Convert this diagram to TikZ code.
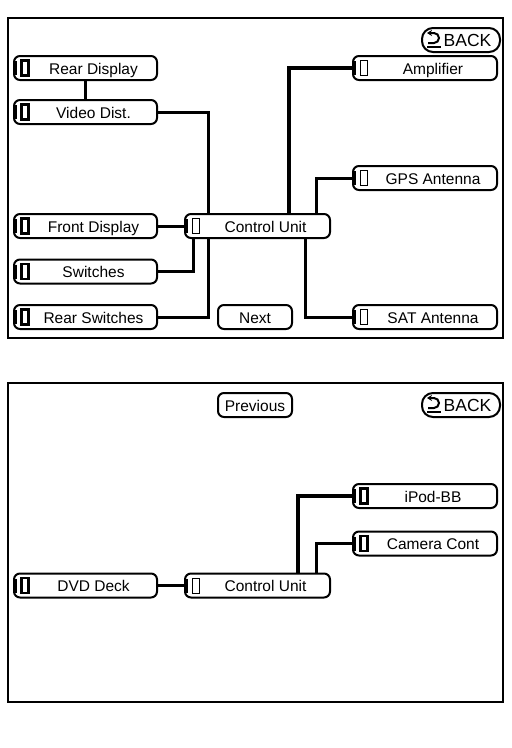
\documentclass[tikz,border=0pt]{standalone}
\usepackage{fontspec}
\setmainfont{Liberation Sans}
\usetikzlibrary{arrows.meta}

\begin{document}
\begin{tikzpicture}[x=1pt,y=-1pt,
		every node/.style={font=\fontsize{15.5}{18}\selectfont,text height=12pt,text depth=0pt},
		unit/.style={draw,line width=2pt,rounded corners=6pt,minimum width=143pt,
			minimum height=24pt,inner sep=0pt,execute at begin node={\hspace*{16pt}},
			path picture={
				\draw[sharp corners,line width=1.4pt] ([xshift=2pt,yshift=-5pt]path picture bounding box.north west)
				-- ([xshift=2pt,yshift=5pt]path picture bounding box.south west);
				\draw[sharp corners,line width=#1] ([xshift=7.5pt,yshift=-4.5pt]path picture bounding box.north west)
				rectangle ++(7pt,-15pt);}},
		unit/.default=0.9pt,
		button/.style={draw,line width=2pt,rounded corners=6pt,minimum width=74pt,
			minimum height=24pt,inner sep=0pt},
		backbtn/.style={button,rounded corners=11pt,minimum width=78pt,
			font=\fontsize{17.5}{20}\selectfont,text height=13pt,
			execute at begin node={\hspace*{13pt}}},
		wire/.style={line width=3pt},
		frame/.style={line width=2.6pt}]
		\useasboundingbox (0,0) rectangle (512,748);

		% first page
		\draw[frame] (8,18) rectangle (503,338);
		\node[backbtn] (back) at (461,40) {BACK};
		\node[unit=2.2pt] (reardisp) at (85.5,68) {Rear Display};
		\node[unit=2.2pt] (videodist) at (85.5,112) {Video Dist.};
		\node[unit=2.2pt] (frontdisp) at (85.5,226) {Front Display};
		\node[unit=2.2pt] (switches) at (85.5,271.5) {Switches};
		\node[unit=2.2pt] (rearsw) at (85.5,317) {Rear Switches};
		\node[unit,minimum width=145pt] (cu) at (257.5,226) {Control Unit};
		\node[button] (next) at (255,317) {Next};
		\node[unit,minimum width=144pt] (amp) at (425,68) {Amplifier};
		\node[unit,minimum width=144pt] (gps) at (425,178) {GPS Antenna};
		\node[unit,minimum width=144pt] (sat) at (425,317) {SAT Antenna};

		\draw[wire] (reardisp) -- (videodist);
		\draw[wire] (videodist.east) -| ([xshift=24pt]cu.north west);
		\draw[wire] (frontdisp) -- (cu);
		\draw[wire] (switches.east) -| ([xshift=9pt]cu.south west);
		\draw[wire] (rearsw.east) -| ([xshift=24pt]cu.south west);
		\draw[wire,line width=3.6pt] (amp.west) -| ([xshift=105pt]cu.north west);
		\draw[wire] (gps.west) -| ([xshift=132pt]cu.north west);
		\draw[wire] ([xshift=121pt]cu.south west) |- (sat.west);

		% second page
		\draw[frame] (8,383) rectangle (503,702);
		\node[button,minimum width=74pt] (prev) at (255,405) {Previous};
		\node[backbtn] (back2) at (461,405) {BACK};
		\node[unit=2.2pt,minimum width=144pt] (ipod) at (425,496) {iPod-BB};
		\node[unit=2.2pt,minimum width=144pt] (camera) at (425,543.5) {Camera Cont};
		\node[unit=2.2pt] (dvd) at (85.5,585.5) {DVD Deck};
		\node[unit,minimum width=145pt] (cutwo) at (257.5,585.5) {Control Unit};

		\draw[wire,line width=3.6pt] (dvd) -- (cutwo);
		\draw[wire,line width=3.6pt] (ipod.west) -| ([xshift=114pt]cutwo.north west);
		\draw[wire] (camera.west) -| ([xshift=132pt]cutwo.north west);

		% return icons
		\foreach \b in {back,back2}
		{
			\draw[line width=2pt,{Stealth[length=5pt,width=6pt]}-]
			([xshift=6pt,yshift=7pt]\b.west) -- ++(7pt,0pt)
			arc[start angle=90,end angle=-90,radius=5pt] -- ++(-6pt,0pt);
			\draw[line width=2pt] ([xshift=6pt,yshift=-7pt]\b.west) -- ++(14pt,0pt);
		}
\end{tikzpicture}
\end{document}
